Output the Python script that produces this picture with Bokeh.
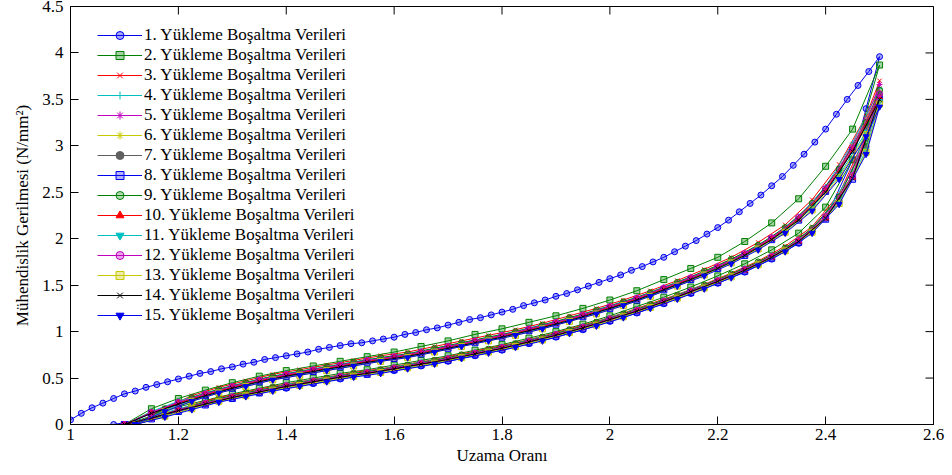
from bokeh.plotting import figure
from bokeh.models import Range1d, FixedTicker, Legend, LegendItem, ColumnDataSource
from bokeh.embed import file_html
from bokeh.resources import INLINE

# ---------------- data ----------------
X_TICKS = [1.0, 1.2, 1.4, 1.6, 1.8, 2.0, 2.2, 2.4, 2.6]
X_TICK_LABELS = ["1", "1.2", "1.4", "1.6", "1.8", "2", "2.2", "2.4", "2.6"]
Y_TICKS = [0.0, 0.5, 1.0, 1.5, 2.0, 2.5, 3.0, 3.5, 4.0, 4.5]
Y_TICK_LABELS = ["0", "0.5", "1", "1.5", "2", "2.5", "3", "3.5", "4", "4.5"]

LABELS = [f"{i}. Yükleme Boşaltma Verileri" for i in range(1, 16)]

# series 1 (first loading / unloading)
X_S1_LOAD = [1.00, 1.02, 1.04, 1.06, 1.08, 1.10, 1.12, 1.14, 1.16, 1.18,
             1.20, 1.22, 1.24, 1.26, 1.28, 1.30, 1.32, 1.34, 1.36, 1.38,
             1.40, 1.42, 1.44, 1.46, 1.48, 1.50, 1.52, 1.54, 1.56, 1.58,
             1.60, 1.62, 1.64, 1.66, 1.68, 1.70, 1.72, 1.74, 1.76, 1.78,
             1.80, 1.82, 1.84, 1.86, 1.88, 1.90, 1.92, 1.94, 1.96, 1.98,
             2.00, 2.02, 2.04, 2.06, 2.08, 2.10, 2.12, 2.14, 2.16, 2.18,
             2.20, 2.22, 2.24, 2.26, 2.28, 2.30, 2.32, 2.34, 2.36, 2.38,
             2.40, 2.42, 2.44, 2.46, 2.48, 2.50]
Y_S1_LOAD = [0.05, 0.12, 0.18, 0.23, 0.28, 0.33, 0.36, 0.40, 0.43, 0.46,
             0.49, 0.52, 0.55, 0.57, 0.60, 0.62, 0.65, 0.67, 0.70, 0.72,
             0.74, 0.76, 0.78, 0.81, 0.83, 0.85, 0.87, 0.88, 0.90, 0.92,
             0.94, 0.97, 0.99, 1.02, 1.04, 1.07, 1.10, 1.13, 1.15, 1.18,
             1.21, 1.24, 1.28, 1.31, 1.34, 1.38, 1.41, 1.45, 1.49, 1.53,
             1.57, 1.61, 1.66, 1.70, 1.75, 1.80, 1.86, 1.92, 1.98, 2.05,
             2.12, 2.20, 2.29, 2.38, 2.47, 2.57, 2.67, 2.79, 2.91, 3.04,
             3.18, 3.34, 3.50, 3.65, 3.80, 3.96]
X_S1_UNLOAD = [1.08, 1.15, 1.20, 1.25, 1.30, 1.35, 1.40, 1.45, 1.50, 1.55,
               1.60, 1.65, 1.70, 1.75, 1.80, 1.85, 1.90, 1.95, 2.00, 2.05,
               2.10, 2.15, 2.20, 2.25, 2.30, 2.35, 2.40, 2.45, 2.475, 2.50]
Y_S1_UNLOAD = [0.00, 0.07, 0.15, 0.22, 0.28, 0.34, 0.39, 0.44, 0.49, 0.54,
               0.58, 0.63, 0.68, 0.74, 0.80, 0.87, 0.94, 1.02, 1.11, 1.20,
               1.30, 1.41, 1.52, 1.64, 1.78, 1.95, 2.22, 2.85, 3.40, 3.96]

# strain grids of the later cycles
X_GRID_A = [1.10, 1.15, 1.20, 1.25, 1.30, 1.35, 1.40, 1.45, 1.50, 1.55,
            1.60, 1.65, 1.70, 1.75, 1.80, 1.85, 1.90, 1.95, 2.00, 2.05,
            2.10, 2.15, 2.20, 2.25, 2.30, 2.35, 2.40, 2.45, 2.50]
X_GRID_B = [1.12, 1.175, 1.225, 1.275, 1.325, 1.375, 1.425, 1.475, 1.525, 1.575,
            1.625, 1.675, 1.725, 1.775, 1.825, 1.875, 1.925, 1.975, 2.025, 2.075,
            2.125, 2.175, 2.225, 2.275, 2.325, 2.375, 2.425, 2.475, 2.50]

LOAD_2 = [0.00, 0.17, 0.28, 0.37, 0.45, 0.52, 0.58, 0.63, 0.68, 0.73,
          0.78, 0.84, 0.90, 0.97, 1.03, 1.10, 1.17, 1.25, 1.34, 1.44,
          1.56, 1.68, 1.80, 1.97, 2.17, 2.43, 2.78, 3.18, 3.87]
UNLOAD_2 = [0.00, 0.09, 0.19, 0.26, 0.33, 0.39, 0.45, 0.50, 0.55, 0.59,
            0.64, 0.69, 0.74, 0.80, 0.86, 0.93, 1.00, 1.08, 1.17, 1.27,
            1.37, 1.48, 1.60, 1.73, 1.88, 2.06, 2.34, 2.85, 3.87]
LOAD_3 = [0.00, 0.18, 0.31, 0.40, 0.47, 0.54, 0.59, 0.64, 0.69, 0.74,
          0.78, 0.84, 0.90, 0.96, 1.02, 1.09, 1.17, 1.25, 1.34, 1.44,
          1.55, 1.67, 1.80, 1.96, 2.15, 2.42, 2.80, 3.32, 3.70]
UNLOAD_3 = [0.00, 0.11, 0.21, 0.29, 0.35, 0.41, 0.46, 0.51, 0.56, 0.60,
            0.65, 0.70, 0.76, 0.82, 0.88, 0.95, 1.03, 1.11, 1.20, 1.30,
            1.40, 1.51, 1.63, 1.76, 1.92, 2.13, 2.48, 3.12, 3.70]
LOAD_4 = [0.00, 0.14, 0.25, 0.34, 0.42, 0.49, 0.55, 0.60, 0.65, 0.70,
          0.74, 0.79, 0.85, 0.91, 0.97, 1.04, 1.11, 1.19, 1.28, 1.37,
          1.48, 1.59, 1.71, 1.85, 2.02, 2.24, 2.56, 3.03, 3.62]
UNLOAD_4 = [0.00, 0.08, 0.17, 0.24, 0.31, 0.37, 0.43, 0.48, 0.53, 0.57,
            0.62, 0.67, 0.72, 0.78, 0.84, 0.91, 0.98, 1.06, 1.15, 1.24,
            1.34, 1.45, 1.56, 1.68, 1.82, 1.99, 2.26, 2.74, 3.62]
LOAD_5 = [0.00, 0.16, 0.28, 0.37, 0.44, 0.51, 0.56, 0.61, 0.66, 0.71,
          0.75, 0.81, 0.87, 0.93, 0.99, 1.06, 1.14, 1.22, 1.31, 1.41,
          1.52, 1.64, 1.77, 1.92, 2.11, 2.37, 2.76, 3.28, 3.66]
UNLOAD_5 = [0.00, 0.10, 0.19, 0.27, 0.33, 0.39, 0.44, 0.49, 0.54, 0.58,
            0.63, 0.68, 0.74, 0.80, 0.86, 0.93, 1.01, 1.09, 1.18, 1.28,
            1.38, 1.49, 1.61, 1.74, 1.89, 2.10, 2.45, 3.08, 3.66]
LOAD_6 = [0.00, 0.13, 0.23, 0.32, 0.40, 0.47, 0.53, 0.58, 0.63, 0.68,
          0.72, 0.77, 0.83, 0.89, 0.95, 1.02, 1.09, 1.17, 1.26, 1.35,
          1.46, 1.57, 1.69, 1.83, 2.00, 2.22, 2.53, 2.99, 3.58]
UNLOAD_6 = [0.00, 0.07, 0.16, 0.23, 0.30, 0.36, 0.42, 0.47, 0.52, 0.56,
            0.61, 0.66, 0.71, 0.77, 0.83, 0.90, 0.97, 1.05, 1.14, 1.23,
            1.33, 1.44, 1.55, 1.67, 1.81, 1.98, 2.24, 2.69, 3.58]
LOAD_7 = [0.00, 0.16, 0.27, 0.36, 0.43, 0.50, 0.55, 0.60, 0.65, 0.70,
          0.74, 0.80, 0.86, 0.92, 0.98, 1.05, 1.13, 1.21, 1.30, 1.40,
          1.51, 1.63, 1.76, 1.91, 2.10, 2.35, 2.71, 3.20, 3.55]
UNLOAD_7 = [0.00, 0.09, 0.18, 0.26, 0.32, 0.38, 0.43, 0.48, 0.53, 0.57,
            0.62, 0.67, 0.73, 0.79, 0.85, 0.92, 1.00, 1.08, 1.17, 1.27,
            1.37, 1.48, 1.60, 1.73, 1.88, 2.08, 2.41, 2.99, 3.55]
LOAD_8 = [0.00, 0.12, 0.22, 0.31, 0.39, 0.46, 0.52, 0.57, 0.62, 0.67,
          0.71, 0.76, 0.82, 0.88, 0.94, 1.01, 1.08, 1.16, 1.25, 1.34,
          1.45, 1.56, 1.68, 1.82, 1.99, 2.20, 2.51, 2.95, 3.50]
UNLOAD_8 = [0.00, 0.06, 0.14, 0.21, 0.28, 0.34, 0.40, 0.45, 0.50, 0.54,
            0.59, 0.64, 0.69, 0.75, 0.81, 0.88, 0.95, 1.03, 1.12, 1.21,
            1.31, 1.42, 1.53, 1.65, 1.79, 1.96, 2.21, 2.64, 3.50]
LOAD_9 = [0.00, 0.17, 0.29, 0.38, 0.45, 0.52, 0.57, 0.62, 0.67, 0.72,
          0.76, 0.82, 0.88, 0.94, 1.00, 1.07, 1.15, 1.23, 1.32, 1.42,
          1.53, 1.65, 1.78, 1.93, 2.12, 2.38, 2.75, 3.25, 3.60]
UNLOAD_9 = [0.00, 0.11, 0.20, 0.28, 0.34, 0.40, 0.45, 0.50, 0.55, 0.59,
            0.64, 0.69, 0.75, 0.81, 0.87, 0.94, 1.02, 1.10, 1.19, 1.29,
            1.39, 1.50, 1.62, 1.75, 1.90, 2.11, 2.45, 3.05, 3.60]
LOAD_10 = [0.00, 0.13, 0.23, 0.32, 0.40, 0.47, 0.53, 0.58, 0.63, 0.68,
           0.72, 0.77, 0.83, 0.89, 0.95, 1.02, 1.09, 1.17, 1.26, 1.35,
           1.46, 1.57, 1.69, 1.83, 2.00, 2.21, 2.52, 2.96, 3.52]
UNLOAD_10 = [0.00, 0.07, 0.15, 0.22, 0.29, 0.35, 0.41, 0.46, 0.51, 0.55,
             0.60, 0.65, 0.70, 0.76, 0.82, 0.89, 0.96, 1.04, 1.13, 1.22,
             1.32, 1.43, 1.54, 1.66, 1.80, 1.97, 2.22, 2.66, 3.52]
LOAD_11 = [0.00, 0.15, 0.26, 0.35, 0.42, 0.49, 0.54, 0.59, 0.64, 0.69,
           0.73, 0.79, 0.85, 0.91, 0.97, 1.04, 1.12, 1.20, 1.29, 1.39,
           1.50, 1.62, 1.75, 1.90, 2.08, 2.33, 2.68, 3.15, 3.48]
UNLOAD_11 = [0.00, 0.09, 0.17, 0.25, 0.31, 0.37, 0.42, 0.47, 0.52, 0.56,
             0.61, 0.66, 0.72, 0.78, 0.84, 0.91, 0.99, 1.07, 1.16, 1.26,
             1.36, 1.47, 1.59, 1.72, 1.87, 2.07, 2.39, 2.95, 3.48]
LOAD_12 = [0.00, 0.13, 0.24, 0.33, 0.41, 0.48, 0.54, 0.59, 0.64, 0.69,
           0.73, 0.78, 0.84, 0.90, 0.96, 1.03, 1.10, 1.18, 1.27, 1.36,
           1.47, 1.58, 1.70, 1.84, 2.01, 2.23, 2.54, 2.98, 3.56]
UNLOAD_12 = [0.00, 0.07, 0.16, 0.23, 0.30, 0.36, 0.42, 0.47, 0.52, 0.56,
             0.61, 0.66, 0.71, 0.77, 0.83, 0.90, 0.97, 1.05, 1.14, 1.23,
             1.33, 1.44, 1.55, 1.67, 1.81, 1.98, 2.24, 2.68, 3.56]
LOAD_13 = [0.00, 0.14, 0.25, 0.34, 0.41, 0.48, 0.53, 0.58, 0.63, 0.68,
           0.72, 0.78, 0.84, 0.90, 0.96, 1.03, 1.11, 1.19, 1.28, 1.38,
           1.49, 1.61, 1.74, 1.89, 2.07, 2.31, 2.66, 3.12, 3.45]
UNLOAD_13 = [0.00, 0.09, 0.17, 0.25, 0.31, 0.37, 0.42, 0.47, 0.52, 0.56,
             0.61, 0.66, 0.72, 0.78, 0.84, 0.91, 0.99, 1.07, 1.16, 1.26,
             1.36, 1.47, 1.59, 1.72, 1.87, 2.07, 2.38, 2.93, 3.45]
LOAD_14 = [0.00, 0.12, 0.22, 0.31, 0.39, 0.46, 0.52, 0.57, 0.62, 0.67,
           0.71, 0.76, 0.82, 0.88, 0.94, 1.01, 1.08, 1.16, 1.25, 1.34,
           1.45, 1.56, 1.68, 1.82, 1.99, 2.20, 2.50, 2.94, 3.50]
UNLOAD_14 = [0.00, 0.07, 0.15, 0.22, 0.29, 0.35, 0.41, 0.46, 0.51, 0.55,
             0.60, 0.65, 0.70, 0.76, 0.82, 0.89, 0.96, 1.04, 1.13, 1.22,
             1.32, 1.43, 1.54, 1.66, 1.80, 1.97, 2.22, 2.65, 3.50]
LOAD_15 = [0.00, 0.14, 0.25, 0.34, 0.41, 0.48, 0.53, 0.58, 0.63, 0.68,
           0.72, 0.78, 0.84, 0.90, 0.96, 1.03, 1.11, 1.19, 1.28, 1.38,
           1.49, 1.60, 1.73, 1.88, 2.06, 2.30, 2.64, 3.10, 3.42]
UNLOAD_15 = [0.00, 0.08, 0.16, 0.24, 0.30, 0.36, 0.41, 0.46, 0.51, 0.55,
             0.60, 0.65, 0.71, 0.77, 0.83, 0.90, 0.98, 1.06, 1.15, 1.25,
             1.35, 1.46, 1.58, 1.71, 1.86, 2.06, 2.37, 2.91, 3.42]

SERIES = [
    (X_S1_LOAD, Y_S1_LOAD, X_S1_UNLOAD, Y_S1_UNLOAD),
    (X_GRID_A, LOAD_2, X_GRID_A, UNLOAD_2),
    (X_GRID_B, LOAD_3, X_GRID_B, UNLOAD_3),
    (X_GRID_A, LOAD_4, X_GRID_A, UNLOAD_4),
    (X_GRID_B, LOAD_5, X_GRID_B, UNLOAD_5),
    (X_GRID_A, LOAD_6, X_GRID_A, UNLOAD_6),
    (X_GRID_B, LOAD_7, X_GRID_B, UNLOAD_7),
    (X_GRID_A, LOAD_8, X_GRID_A, UNLOAD_8),
    (X_GRID_B, LOAD_9, X_GRID_B, UNLOAD_9),
    (X_GRID_A, LOAD_10, X_GRID_A, UNLOAD_10),
    (X_GRID_B, LOAD_11, X_GRID_B, UNLOAD_11),
    (X_GRID_A, LOAD_12, X_GRID_A, UNLOAD_12),
    (X_GRID_B, LOAD_13, X_GRID_B, UNLOAD_13),
    (X_GRID_A, LOAD_14, X_GRID_A, UNLOAD_14),
    (X_GRID_B, LOAD_15, X_GRID_B, UNLOAD_15),
]

# ---------------- styles ----------------
COLORS = ["#0000ee", "#008000", "#ff0000", "#00bfbf", "#bf00bf", "#c8c800", "#606060",
          "#0000ee", "#008000", "#ff0000", "#00bfbf", "#bf00bf", "#c8c800", "#000000", "#0000ee"]
MARKERS = ["circle", "square", "x", "cross", "asterisk", "asterisk", "circle",
           "square", "circle", "triangle", "inverted_triangle", "circle", "square", "x", "inverted_triangle"]
FILL_ALPHA = [0.35, 0.35, 0.35, 0.35, 0.35, 0.35, 1.0,
              0.3, 0.3, 1.0, 1.0, 0.35, 0.35, 0.35, 1.0]
FONT = "Liberation Serif"

p = figure(width=952, height=475, output_backend="svg", toolbar_location=None,
           x_range=Range1d(1.0, 2.6), y_range=Range1d(0.0, 4.5),
           min_border_left=70, min_border_right=19, min_border_top=6, min_border_bottom=51,
           background_fill_color="white", border_fill_color="white",
           outline_line_color="black", outline_line_width=1)
p.xgrid.visible = False
p.ygrid.visible = False

for ax, ticks, labels in ((p.xaxis[0], X_TICKS, X_TICK_LABELS), (p.yaxis[0], Y_TICKS, Y_TICK_LABELS)):
    ax.ticker = FixedTicker(ticks=ticks)
    ax.major_label_overrides = {t: l for t, l in zip(ticks, labels)}
    ax.major_tick_in = 8
    ax.major_tick_out = 0
    ax.minor_tick_line_color = None
    ax.axis_line_color = "black"
    ax.major_tick_line_color = "black"
    ax.major_label_text_font = FONT
    ax.major_label_text_font_size = "17px"
    ax.major_label_text_color = "black"
    ax.axis_label_text_font = FONT
    ax.axis_label_text_font_size = "17px"
    ax.axis_label_text_font_style = "normal"
    ax.axis_label_text_color = "black"

p.xaxis.axis_label = "Uzama Oranı"
p.xaxis.major_label_standoff = 4
p.xaxis.axis_label_standoff = 3
p.yaxis.axis_label = "Mühendislik Gerilmesi (N/mm²)"
p.yaxis.major_label_standoff = 7
p.yaxis.axis_label_standoff = 7

items = []
for i, (xl, yl, xu, yu) in enumerate(SERIES):
    xs = list(xl) + list(xu)[::-1][1:]
    ys = list(yl) + list(yu)[::-1][1:]
    src = ColumnDataSource(dict(x=xs, y=ys))
    rl = p.line("x", "y", source=src, line_color=COLORS[i], line_width=1)
    rm = p.scatter("x", "y", source=src, marker=MARKERS[i], size=6,
                   line_color=COLORS[i], fill_color=COLORS[i], fill_alpha=FILL_ALPHA[i], line_width=1)
    items.append(LegendItem(label=LABELS[i], renderers=[rl, rm]))

# tick marks on the right and top edges of the box (half of each dash is clipped by the frame)
x_right = [X_TICKS[-1]] * len(Y_TICKS)
y_top = [Y_TICKS[-1]] * len(X_TICKS)
p.scatter(x_right, Y_TICKS, marker="dash", size=16, line_color="black", line_width=1)
p.scatter(X_TICKS, y_top, marker="dash", size=16, angle=1.5707963, line_color="black", line_width=1)

legend = Legend(items=items, location=(27, 99), padding=0, spacing=0, margin=0,
                glyph_width=45, glyph_height=20, label_height=20, label_standoff=2,
                border_line_color=None, background_fill_alpha=0,
                label_text_font=FONT, label_text_font_size="17px", label_text_color="black")
p.add_layout(legend)

open("out.html", "w").write(file_html(p, INLINE))
